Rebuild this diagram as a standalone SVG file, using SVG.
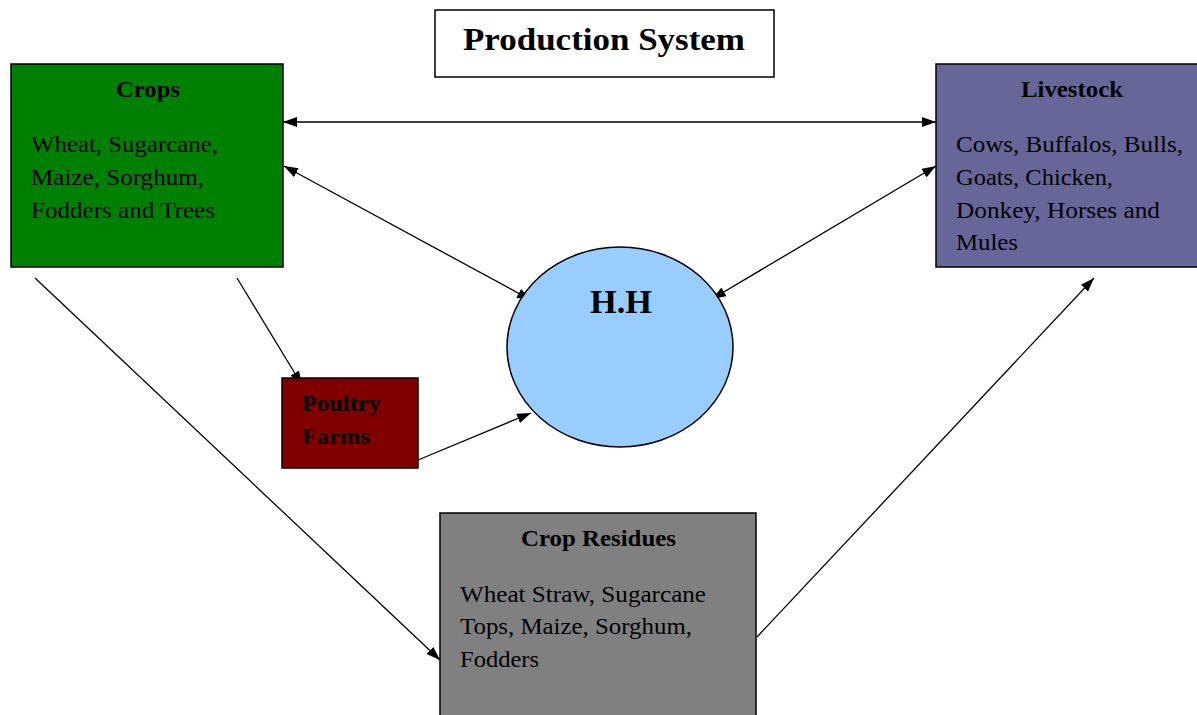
<svg xmlns="http://www.w3.org/2000/svg" width="1197" height="715" viewBox="0 0 1197 715">
<defs>
<marker id="ah" viewBox="0 0 14 10" refX="14" refY="5" markerWidth="14" markerHeight="10" markerUnits="userSpaceOnUse" orient="auto-start-reverse">
<path d="M0,0 L14,5 L0,10 Z" fill="#000"/>
</marker>
<style>
.box{stroke:#000;stroke-width:1.5}
.t{font-family:"Liberation Serif","Times New Roman",serif;fill:#000;font-size:24px}
.b{font-weight:bold}
.c{stroke:#000;stroke-width:1.3;fill:none}
</style>
</defs>
<rect width="1197" height="715" fill="#fff"/>
<g id="connectors">
<line class="c" x1="283" y1="122" x2="936" y2="122" marker-start="url(#ah)" marker-end="url(#ah)"/>
<line class="c" x1="284" y1="166" x2="531" y2="300" marker-start="url(#ah)" marker-end="url(#ah)"/>
<line class="c" x1="936" y1="166" x2="712" y2="299" marker-start="url(#ah)" marker-end="url(#ah)"/>
<line class="c" x1="237" y1="278" x2="302" y2="385" marker-end="url(#ah)"/>
<line class="c" x1="418" y1="460" x2="531" y2="413" marker-end="url(#ah)"/>
<line class="c" x1="35" y1="278" x2="440" y2="660" marker-end="url(#ah)"/>
<line class="c" x1="757" y1="637" x2="1094" y2="278" marker-end="url(#ah)"/>
</g>
<g id="title">
<rect class="box" x="435" y="10" width="339" height="67" fill="#fff"/>
<text class="t b" x="463" y="50" style="font-size:32px" textLength="282" lengthAdjust="spacingAndGlyphs">Production System</text>
</g>
<g id="crops">
<rect class="box" x="11" y="64" width="272" height="203" fill="#008000"/>
<text class="t b" x="116" y="97" textLength="64" lengthAdjust="spacingAndGlyphs">Crops</text>
<text class="t" x="31" y="152" textLength="187" lengthAdjust="spacingAndGlyphs">Wheat, Sugarcane,</text>
<text class="t" x="31" y="185" textLength="173" lengthAdjust="spacingAndGlyphs">Maize, Sorghum,</text>
<text class="t" x="31" y="218" textLength="184" lengthAdjust="spacingAndGlyphs">Fodders and Trees</text>
</g>
<g id="livestock">
<rect class="box" x="936" y="64" width="263" height="203" fill="#666699"/>
<text class="t b" x="1021" y="97" textLength="102" lengthAdjust="spacingAndGlyphs">Livestock</text>
<text class="t" x="956" y="152" textLength="227" lengthAdjust="spacingAndGlyphs">Cows, Buffalos, Bulls,</text>
<text class="t" x="956" y="185" textLength="157" lengthAdjust="spacingAndGlyphs">Goats, Chicken,</text>
<text class="t" x="956" y="218" textLength="204" lengthAdjust="spacingAndGlyphs">Donkey, Horses and</text>
<text class="t" x="956" y="250" textLength="62" lengthAdjust="spacingAndGlyphs">Mules</text>
</g>
<g id="hh">
<ellipse class="box" cx="620" cy="347" rx="113" ry="100" fill="#99ccff"/>
<text class="t b" x="590" y="313" style="font-size:33px" textLength="62" lengthAdjust="spacingAndGlyphs">H.H</text>
</g>
<g id="poultry">
<rect class="box" x="282" y="378" width="136" height="90" fill="#800000"/>
<text class="t b" x="302" y="411" textLength="79" lengthAdjust="spacingAndGlyphs">Poultry</text>
<text class="t b" x="302" y="444" textLength="68" lengthAdjust="spacingAndGlyphs">Farms</text>
</g>
<g id="residues">
<rect class="box" x="440" y="513" width="316" height="210" fill="#808080"/>
<text class="t b" x="521" y="546" textLength="155" lengthAdjust="spacingAndGlyphs">Crop Residues</text>
<text class="t" x="460" y="602" textLength="246" lengthAdjust="spacingAndGlyphs">Wheat Straw, Sugarcane</text>
<text class="t" x="460" y="634" textLength="232" lengthAdjust="spacingAndGlyphs">Tops, Maize, Sorghum,</text>
<text class="t" x="460" y="667" textLength="79" lengthAdjust="spacingAndGlyphs">Fodders</text>
</g>
</svg>
